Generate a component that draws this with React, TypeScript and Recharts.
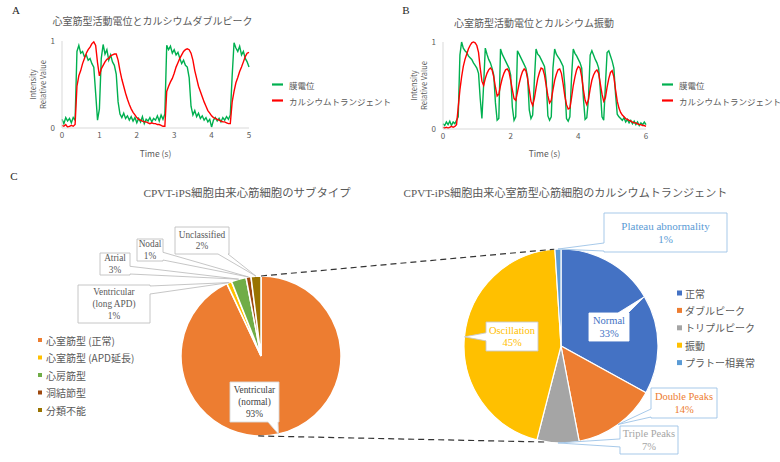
import React from "react"
import { LineChart, Line, XAxis, YAxis, PieChart, Pie, Cell } from "recharts"

// Panel A: 心室筋型活動電位とカルシウムダブルピーク (sampled every 0.05 s, 0-5 s)
const STEP_A = 0.05
const membraneA = [
  0.10, 0.05, 0.12, 0.08, 0.11, 0.06, 0.12, 0.09, 0.88, 0.95,
  0.86, 0.88, 0.82, 0.84, 0.78, 0.80, 0.74, 0.70, 0.40, 0.09,
  0.22, 0.80, 0.96, 0.85, 0.90, 0.78, 0.84, 0.76, 0.72, 0.62,
  0.30, 0.16, 0.12, 0.17, 0.11, 0.14, 0.09, 0.13, 0.08, 0.12,
  0.06, 0.11, 0.07, 0.13, 0.05, 0.10, 0.08, 0.12, 0.07, 0.11,
  0.09, 0.14, 0.08, 0.15, 0.10, 0.16, 0.95, 0.90, 0.94, 0.86,
  0.90, 0.84, 0.87, 0.80, 0.74, 0.78, 0.72, 0.70, 0.58, 0.25,
  0.15, 0.20, 0.13, 0.17, 0.11, 0.14, 0.09, 0.12, 0.07, 0.10,
  0.01, 0.09, 0.12, 0.08, 0.11, 0.07, 0.12, 0.09, 0.13, 0.10,
  0.15, 0.60, 0.98, 0.92, 0.88, 0.94, 0.84, 0.88, 0.80, 0.76,
  0.70,
]
const calciumA = [
  0.03, 0.02, 0.04, 0.01, 0.02, 0.03, 0.02, 0.04, 0.48, 0.60,
  0.66, 0.74, 0.80, 0.86, 0.90, 0.93, 0.97, 0.99, 0.95, 0.75,
  0.60, 0.68, 0.72, 0.76, 0.79, 0.80, 0.83, 0.84, 0.85, 0.85,
  0.78, 0.66, 0.56, 0.48, 0.40, 0.33, 0.27, 0.22, 0.18, 0.15,
  0.12, 0.10, 0.09, 0.08, 0.07, 0.07, 0.06, 0.05, 0.06, 0.05,
  0.05, 0.04, 0.04, 0.03, 0.02, 0.02, 0.42, 0.48, 0.53, 0.57,
  0.63, 0.70, 0.75, 0.80, 0.84, 0.88, 0.90, 0.91, 0.90, 0.86,
  0.78, 0.66, 0.57, 0.48, 0.42, 0.36, 0.30, 0.25, 0.20, 0.17,
  0.14, 0.12, 0.11, 0.10, 0.09, 0.08, 0.07, 0.07, 0.06, 0.05,
  0.05, 0.30, 0.42, 0.52, 0.58, 0.65, 0.70, 0.76, 0.82, 0.86,
  0.87,
]

// Panel B: 心室筋型活動電位とカルシウム振動 (sampled every 0.05 s, 0-6 s)
const STEP_B = 0.05
const membraneB = [
  0.06, 0.04, 0.08, 0.05, 0.09, 0.04, 0.08, 0.06, 0.10, 0.14,
  0.85, 1.00, 0.93, 0.90, 0.88, 0.84, 0.82, 0.80, 0.76, 0.73,
  0.70, 0.64, 0.35, 0.12, 0.50, 0.93, 0.86, 0.80, 0.76, 0.70,
  0.62, 0.30, 0.10, 0.12, 0.92, 0.86, 0.82, 0.78, 0.74, 0.70,
  0.62, 0.25, 0.10, 0.14, 0.90, 0.86, 0.82, 0.78, 0.74, 0.70,
  0.60, 0.22, 0.12, 0.16, 0.55, 0.92, 0.86, 0.84, 0.80, 0.76,
  0.72, 0.55, 0.15, 0.10, 0.14, 0.70, 0.92, 0.86, 0.83, 0.80,
  0.76, 0.72, 0.50, 0.12, 0.09, 0.14, 0.60, 0.92, 0.87, 0.84,
  0.80, 0.76, 0.70, 0.35, 0.11, 0.13, 0.35, 0.85, 0.90, 0.85,
  0.80, 0.76, 0.70, 0.45, 0.14, 0.10, 0.50, 0.88, 0.90, 0.84,
  0.78, 0.70, 0.40, 0.17, 0.14, 0.12, 0.10, 0.13, 0.08, 0.11,
  0.07, 0.10, 0.06, 0.09, 0.05, 0.08, 0.04, 0.07, 0.05, 0.08,
  0.05,
]
const calciumB = [
  0.02, 0.01, 0.02, 0.01, 0.02, 0.03, 0.02, 0.03, 0.05, 0.25,
  0.45, 0.60, 0.72, 0.80, 0.86, 0.92, 0.96, 0.99, 1.00, 0.99,
  0.96, 0.88, 0.70, 0.55, 0.50, 0.58, 0.64, 0.68, 0.70, 0.68,
  0.60, 0.48, 0.38, 0.40, 0.50, 0.58, 0.64, 0.68, 0.69, 0.66,
  0.56, 0.45, 0.35, 0.33, 0.42, 0.52, 0.60, 0.66, 0.69, 0.67,
  0.58, 0.45, 0.32, 0.27, 0.35, 0.47, 0.58, 0.65, 0.70, 0.69,
  0.62, 0.50, 0.38, 0.30, 0.33, 0.45, 0.56, 0.63, 0.68, 0.69,
  0.64, 0.52, 0.38, 0.28, 0.23, 0.24, 0.36, 0.50, 0.60, 0.68,
  0.72, 0.70, 0.60, 0.45, 0.33, 0.28, 0.34, 0.46, 0.56, 0.62,
  0.66, 0.68, 0.64, 0.52, 0.40, 0.32, 0.36, 0.48, 0.58, 0.65,
  0.67, 0.60, 0.45, 0.32, 0.24, 0.19, 0.16, 0.14, 0.12, 0.11,
  0.10, 0.09, 0.08, 0.07, 0.07, 0.06, 0.05, 0.05, 0.04, 0.04,
  0.03,
]

const ticksA = [0, 1, 2, 3, 4, 5]
const ticksB = [0, 2, 4, 6]
const ticksY = [0, 1]
const seriesNames = ["膜電位", "カルシウムトランジェント"]
const seriesColors = ["#00B050", "#FF0000"]

// Panel C left: CPVT-iPS細胞由来心筋細胞のサブタイプ
const subtypeLabels = ["Ventricular\n(normal)", "Ventricular\n(long APD)", "Atrial", "Nodal", "Unclassified"]
const subtypeLegend = ["心室筋型 (正常)", "心室筋型 (APD延長)", "心房筋型", "洞結節型", "分類不能"]
const subtypeValues = [93, 1, 3, 1, 2]
const subtypeColors = ["#ED7D31", "#FFC000", "#70AD47", "#9E480E", "#997300"]

// Panel C right: カルシウムトランジェント
const calciumLabels = ["Normal", "Double Peaks", "Triple Peaks", "Oscillation", "Plateau abnormality"]
const calciumLegend = ["正常", "ダブルピーク", "トリプルピーク", "振動", "プラトー相異常"]
const calciumValues = [33, 14, 7, 45, 1]
const calciumColors = ["#4472C4", "#ED7D31", "#A5A5A5", "#FFC000", "#5B9BD5"]

const SANS = "'Noto Sans CJK JP', 'Noto Sans', sans-serif"
const SERIF = "'Liberation Serif', 'Noto Sans CJK JP', serif"
const GREY = "#595959"

const LEFT_PIE = { cx: 261, cy: 356, r: 80 }
const RIGHT_PIE = { cx: 561, cy: 346, r: 97 }

// label boxes (page coordinates)
const subtypeBoxes = [
  { x: 230, y: 382, w: 49, h: 40, text: "#404040", border: "#d9d9d9" },
  { x: 78, y: 285, w: 72, h: 38, text: GREY, border: "#bfbfbf" },
  { x: 100, y: 253, w: 30, h: 22, text: GREY, border: "#bfbfbf" },
  { x: 137, y: 239, w: 26, h: 22, text: GREY, border: "#bfbfbf" },
  { x: 175, y: 227, w: 54, h: 27, text: GREY, border: "#bfbfbf" },
]
const calciumBoxes = [
  { x: 589, y: 313, w: 40, h: 28, text: "#4472C4", border: "#ffffff", fs: 10.5 },
  { x: 651, y: 388, w: 66, h: 30, text: "#ED7D31", border: "#9DC3E6", fs: 10.5 },
  { x: 620, y: 426, w: 58, h: 28, text: "#A5A5A5", border: "#9DC3E6", fs: 10.5 },
  { x: 486, y: 322, w: 52, h: 29, text: "#FFC000", border: "#c9c9c9", fs: 10.5 },
  { x: 604, y: 213, w: 123, h: 39, text: "#5B9BD5", border: "#9DC3E6", fs: 11 },
]

const clamp = (v: number, a: number, b: number) => Math.max(a, Math.min(b, v))

function calloutPath(x: number, y: number, w: number, h: number, tx: number, ty: number) {
  const nx = (tx - (x + w / 2)) / (w / 2)
  const ny = (ty - (y + h / 2)) / (h / 2)
  if (Math.abs(nx) >= Math.abs(ny)) {
    const bw = Math.min(8, h * 0.35)
    const by = clamp(ty, y + bw / 2 + 1, y + h - bw / 2 - 1)
    if (nx > 0) return `M${x},${y}H${x + w}V${by - bw / 2}L${tx},${ty}L${x + w},${by + bw / 2}V${y + h}H${x}Z`
    return `M${x},${y}H${x + w}V${y + h}H${x}V${by + bw / 2}L${tx},${ty}L${x},${by - bw / 2}Z`
  }
  const bw = Math.min(10, w * 0.3)
  const bx = clamp(tx, x + bw / 2 + 1, x + w - bw / 2 - 1)
  if (ny > 0) return `M${x},${y}H${x + w}V${y + h}H${bx + bw / 2}L${tx},${ty}L${bx - bw / 2},${y + h}H${x}Z`
  return `M${x},${y}H${bx - bw / 2}L${tx},${ty}L${bx + bw / 2},${y}H${x + w}V${y + h}H${x}Z`
}

const makeCallout = (boxes: any[], labels: string[], fontSize: number, lineH: number) => (props: any) => {
  const { cx, cy, midAngle, outerRadius, index, value } = props
  const b = boxes[index]
  const rad = Math.PI / 180
  const tx = cx + outerRadius * Math.cos(-midAngle * rad)
  const ty = cy + outerRadius * Math.sin(-midAngle * rad)
  const lines = [...labels[index].split("\n"), `${value}%`]
  const fs = b.fs ?? fontSize
  const mid = b.y + b.h / 2
  return (
    <g key={`callout-${index}`}>
      <path d={calloutPath(b.x, b.y, b.w, b.h, tx, ty)} fill="#fff" stroke={b.border} strokeWidth={0.9} />
      {lines.map((ln, i) => (
        <text
          key={i}
          x={b.x + b.w / 2}
          y={mid + (i - (lines.length - 1) / 2) * lineH}
          textAnchor="middle"
          dominantBaseline="central"
          fontFamily={SERIF}
          fontSize={fs}
          fill={b.text}
        >
          {ln}
        </text>
      ))}
    </g>
  )
}

const YLabel = (props: any) => {
  const vb = props.viewBox
  if (!vb) return null
  const right = vb.x + vb.width
  const mid = vb.y + vb.height / 2
  return (
    <g>
      {["Intensity", "Relative Value"].map((t, i) => {
        const x = right - 30 + i * 10
        return (
          <text key={t} x={x} y={mid} transform={`rotate(-90 ${x} ${mid})`} textAnchor="middle"
            dominantBaseline="central" fontFamily={SANS} fontSize={7.5} fill={GREY}>
            {t}
          </text>
        )
      })}
    </g>
  )
}

const tickStyle = { fontSize: 8, fill: GREY, fontFamily: SANS }

const TraceChart = ({ membrane, calcium, step, ticks, width, yWidth, margin, xHeight }: any) => {
  const rows = membrane.map((v: number, i: number) => ({ t: +(i * step).toFixed(2), m: v, c: calcium[i] }))
  const xMax = ticks[ticks.length - 1]
  return (
    <LineChart width={width} height={160} data={rows} margin={margin}>
      <XAxis dataKey="t" type="number" domain={[0, xMax]} ticks={ticks} height={xHeight}
        stroke="#d9d9d9" tickLine={false} tickSize={0} tickMargin={4} tick={tickStyle}
        label={{ value: "Time (s)", position: "insideBottom", offset: 3, fontSize: 8.5, fill: GREY, fontFamily: SANS }} />
      <YAxis type="number" domain={[0, 1]} ticks={ticksY} width={yWidth} stroke="#d9d9d9"
        tickLine={false} tickSize={0} tickMargin={7} tick={tickStyle} label={<YLabel />} />
      <Line dataKey="m" stroke={seriesColors[0]} strokeWidth={1.4} dot={false} isAnimationActive={false} />
      <Line dataKey="c" stroke={seriesColors[1]} strokeWidth={1.4} dot={false} isAnimationActive={false} />
    </LineChart>
  )
}

const polar = (p: { cx: number; cy: number; r: number }, deg: number) => [
  p.cx + p.r * Math.cos((-deg * Math.PI) / 180),
  p.cy + p.r * Math.sin((-deg * Math.PI) / 180),
]

export default function App() {
  const subtypeData = subtypeValues.map((v, i) => ({ name: subtypeLabels[i], value: v }))
  const calciumData = calciumValues.map((v, i) => ({ name: calciumLabels[i], value: v }))
  const [t1x, t1y] = polar(LEFT_PIE, 90)
  const [t2x, t2y] = polar(RIGHT_PIE, 94)
  const [b1x, b1y] = polar(LEFT_PIE, -92)
  const [b2x, b2y] = polar(RIGHT_PIE, -98)

  return (
    <div style={{ position: "absolute", left: 0, top: 0, width: 780, height: 462, background: "#fff", overflow: "hidden" }}>
      <div style={{ position: "absolute", left: 0, top: 0 }}>
        <PieChart width={780} height={462} margin={{ top: 0, right: 0, bottom: 0, left: 0 }}>
          <Pie data={subtypeData} dataKey="value" nameKey="name" cx={LEFT_PIE.cx} cy={LEFT_PIE.cy}
            outerRadius={LEFT_PIE.r} startAngle={90} endAngle={-270} isAnimationActive={false}
            labelLine={false} label={makeCallout(subtypeBoxes, subtypeLabels, 9.3, 11.6)}>
            {subtypeColors.map((c) => <Cell key={c} fill={c} stroke="#fff" strokeWidth={1.5} />)}
          </Pie>
          <Pie data={calciumData} dataKey="value" nameKey="name" cx={RIGHT_PIE.cx} cy={RIGHT_PIE.cy}
            outerRadius={RIGHT_PIE.r} startAngle={90} endAngle={-270} isAnimationActive={false}
            labelLine={false} label={makeCallout(calciumBoxes, calciumLabels, 10.5, 12.8)}>
            {calciumColors.map((c) => <Cell key={c} fill={c} stroke="#fff" strokeWidth={1.2} />)}
          </Pie>
        </PieChart>
      </div>

      <div style={{ position: "absolute", left: 0, top: 0 }}>
        <TraceChart membrane={membraneA} calcium={calciumA} step={STEP_A} ticks={ticksA}
          width={260} yWidth={62} xHeight={32} margin={{ top: 41, right: 11, bottom: 0, left: 0 }} />
      </div>
      <div style={{ position: "absolute", left: 390, top: 0 }}>
        <TraceChart membrane={membraneB} calcium={calciumB} step={STEP_B} ticks={ticksB}
          width={265} yWidth={53} xHeight={31} margin={{ top: 42, right: 9, bottom: 0, left: 0 }} />
      </div>

      <svg width={780} height={462} style={{ position: "absolute", left: 0, top: 0, pointerEvents: "none" }}>
        {/* panel letters */}
        {[["A", 16, 10], ["B", 406, 10], ["C", 14, 176]].map(([t, x, y]) => (
          <text key={t as string} x={x as number} y={y as number} textAnchor="middle" dominantBaseline="central"
            fontFamily={SERIF} fontSize={11} fill="#262626">{t}</text>
        ))}
        {/* titles */}
        <text x={152.5} y={20} textAnchor="middle" dominantBaseline="central" fontFamily={SANS} fontSize={10} fill={GREY}>
          心室筋型活動電位とカルシウムダブルピーク
        </text>
        <text x={534} y={22} textAnchor="middle" dominantBaseline="central" fontFamily={SANS} fontSize={10} fill={GREY}>
          心室筋型活動電位とカルシウム振動
        </text>
        <text x={247} y={193} textAnchor="middle" dominantBaseline="central" fontFamily={SERIF} fontSize={11.4} fill={GREY}>
          CPVT-iPS細胞由来心筋細胞のサブタイプ
        </text>
        <text x={565.5} y={193} textAnchor="middle" dominantBaseline="central" fontFamily={SERIF} fontSize={11.1} fill={GREY}>
          CPVT-iPS細胞由来心室筋型心筋細胞のカルシウムトランジェント
        </text>

        {/* trace legends */}
        {[272, 662].map((lx) =>
          seriesNames.map((n, i) => (
            <g key={`${lx}-${n}`}>
              <line x1={lx} x2={lx + 11} y1={84.5 + i * 16} y2={84.5 + i * 16} stroke={seriesColors[i]} strokeWidth={2.2} />
              <text x={lx + 17} y={84.5 + i * 16} dominantBaseline="central" fontFamily={SANS} fontSize={8.5} fill={GREY}>
                {n}
              </text>
            </g>
          ))
        )}

        {/* pie legends */}
        {subtypeLegend.map((n, i) => (
          <g key={n}>
            <rect x={38} y={338 + i * 17.5} width={4} height={4} fill={subtypeColors[i]} />
            <text x={46} y={340 + i * 17.5} dominantBaseline="central" fontFamily={SANS} fontSize={10} fill={GREY}>{n}</text>
          </g>
        ))}
        {calciumLegend.map((n, i) => (
          <g key={n}>
            <rect x={677} y={290.5 + i * 17.4} width={5} height={5} fill={calciumColors[i]} />
            <text x={685} y={293 + i * 17.4} dominantBaseline="central" fontFamily={SANS} fontSize={10} fill={GREY}>{n}</text>
          </g>
        ))}

        {/* pie-of-pie connectors */}
        <line x1={t1x} y1={t1y} x2={t2x} y2={t2y} stroke="#333" strokeWidth={1.2} strokeDasharray="6 4" />
        <line x1={b1x} y1={b1y} x2={b2x} y2={b2y} stroke="#333" strokeWidth={1.2} strokeDasharray="6 4" />
      </svg>
    </div>
  )
}
